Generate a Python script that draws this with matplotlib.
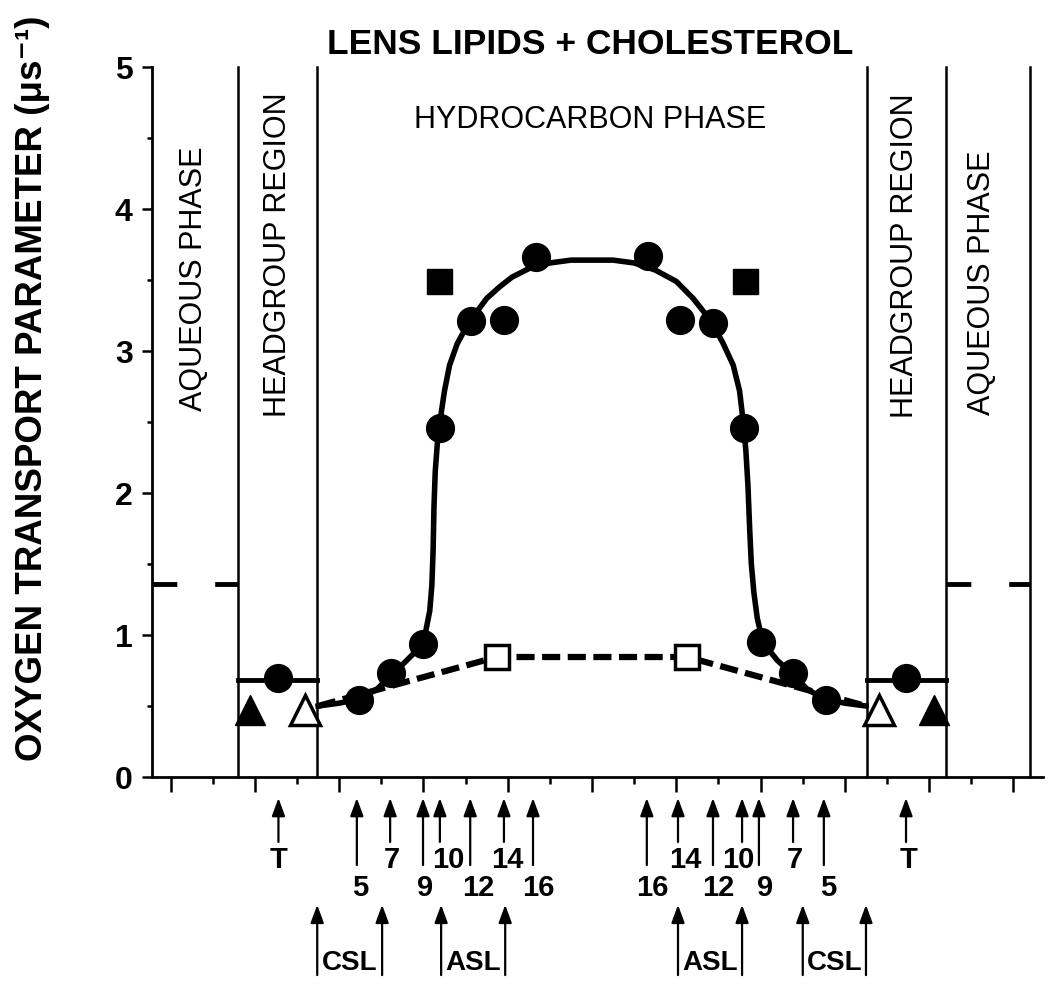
import matplotlib
matplotlib.use('Agg')
import matplotlib.pyplot as plt
from matplotlib import font_manager
from matplotlib.ticker import MultipleLocator

# data (x = position across the membrane, y = transport parameter)
circle_x = [-7.44, -5.54, -4.78, -4.02, -3.60, -2.88, -2.08, -1.32,
            1.32, 2.08, 2.88, 3.60, 4.02, 4.78, 5.54, 7.44]
circle_y = [0.70, 0.54, 0.73, 0.94, 2.46, 3.21, 3.22, 3.66,
            3.67, 3.22, 3.20, 2.46, 0.95, 0.73, 0.54, 0.70]
fsquare_x = [-3.62, 3.62]
fsquare_y = [3.49, 3.49]
osquare_x = [-2.26, 2.26]
osquare_y = [0.845, 0.845]
ftri_x = [-8.12, 8.12]
ftri_y = [0.47, 0.47]
otri_x = [-6.80, 6.80]
otri_y = [0.47, 0.47]

curve_x = [-6.5, -6.0, -5.5, -5.1, -4.75, -4.4, -4.1, -3.95, -3.85, -3.80, -3.77,
           -3.75, -3.72, -3.67, -3.60, -3.50, -3.38, -3.20, -3.0, -2.8, -2.5, -2.2,
           -1.9, -1.5, -1.0, -0.5, 0.0,
           0.5, 1.0, 1.5, 2.0, 2.4, 2.8, 3.1, 3.35, 3.50, 3.58, 3.65, 3.70, 3.74,
           3.78, 3.84, 3.92, 4.05, 4.4, 4.78, 5.1, 5.5, 6.0, 6.5]
curve_y = [0.50, 0.52, 0.55, 0.62, 0.72, 0.82, 0.91, 1.02, 1.17, 1.35, 1.60,
           1.90, 2.15, 2.35, 2.52, 2.72, 2.90, 3.05, 3.16, 3.25, 3.37, 3.45,
           3.52, 3.58, 3.62, 3.64, 3.64,
           3.64, 3.62, 3.57, 3.49, 3.37, 3.22, 3.06, 2.90, 2.72, 2.52, 2.30, 2.05, 1.75,
           1.50, 1.30, 1.12, 0.95, 0.82, 0.72, 0.62, 0.55, 0.52, 0.50]

dash_x = [-6.5, -2.26, 2.26, 6.5]
dash_y = [0.50, 0.845, 0.845, 0.50]

boundaries = [-8.4, -6.52, 6.52, 8.4, 10.4]
aqueous_level = 1.36
headgroup_level = 0.685

probe_names = ['T', '5', '7', '9', '10', '12', '14', '16']
probe_left = [-7.44, -5.58, -4.79, -4.01, -3.61, -2.89, -2.09, -1.40]
probe_right = [7.45, 5.50, 4.77, 3.96, 3.56, 2.87, 2.04, 1.30]
brackets = [('CSL', -6.52, -4.98), ('ASL', -3.58, -2.06),
            ('ASL', 2.04, 3.56), ('CSL', 5.0, 6.5)]

names = {f.name for f in font_manager.fontManager.ttflist}
has_narrow = 'Liberation Sans Narrow' in names
narrow = 'Liberation Sans Narrow' if has_narrow else 'Liberation Sans'
plt.rcParams['font.family'] = ['Liberation Sans', 'DejaVu Sans']

fig = plt.figure(figsize=(10.5, 9.88), dpi=100)
ax = fig.add_axes([152 / 1050, 1 - 777 / 988, 891 / 1050, 710 / 988])
ax.set_xlim(-10.44, 10.70)
ax.set_ylim(0, 5)

for s in ['top', 'right']:
    ax.spines[s].set_visible(False)
for s in ['left', 'bottom']:
    ax.spines[s].set_linewidth(2)

ax.xaxis.set_major_locator(MultipleLocator(2))
ax.xaxis.set_minor_locator(MultipleLocator(1))
ax.yaxis.set_major_locator(MultipleLocator(1))
ax.yaxis.set_minor_locator(MultipleLocator(0.5))
ax.tick_params(axis='x', which='major', length=11, width=1.8, labelbottom=False)
ax.tick_params(axis='x', which='minor', length=5, width=1.8)
ax.tick_params(axis='y', which='major', length=7, width=1.8, labelsize=23, pad=7)
ax.tick_params(axis='y', which='minor', length=3.5, width=1.8)
for lbl in ax.get_yticklabels():
    lbl.set_fontweight('bold')

# region boundaries
for b in boundaries:
    ax.plot([b, b], [0, 5], color='k', lw=1.8, clip_on=False)
ax.plot([-10.44, -8.4], [aqueous_level] * 2, color='k', lw=3.5,
        linestyle=(0, (5.1, 7.8)), solid_capstyle='butt')
ax.plot([8.4, 10.4], [aqueous_level] * 2, color='k', lw=3.5,
        linestyle=(0, (5.1, 7.8)), solid_capstyle='butt')
ax.plot([-8.4, -6.52], [headgroup_level] * 2, color='k', lw=3.5)
ax.plot([6.52, 8.4], [headgroup_level] * 2, color='k', lw=3.5)

# profiles
ax.plot(dash_x, dash_y, color='k', lw=4.5, linestyle=(0, (2.9, 1.2)), zorder=2)
ax.plot(curve_x, curve_y, color='k', lw=4, zorder=3)
ax.plot(circle_x, circle_y, 'o', color='k', ms=20, zorder=4)
ax.plot(fsquare_x, fsquare_y, 's', color='k', ms=18, zorder=4)
ax.plot(osquare_x, osquare_y, 's', mfc='white', mec='k', mew=2.5, ms=17, zorder=4)
ax.plot(ftri_x, ftri_y, '^', color='k', ms=22, zorder=4, clip_on=False)
ax.plot(otri_x, otri_y, '^', mfc='white', mec='k', mew=2.5, ms=22, zorder=4)

# region labels
ax.text(-9.44, 3.51, 'AQUEOUS PHASE', rotation=90, ha='center', va='center', fontsize=22)
ax.text(9.25, 3.48, 'AQUEOUS PHASE', rotation=90, ha='center', va='center', fontsize=22)
ax.text(-7.45, 3.68, 'HEADGROUP REGION', rotation=90, ha='center', va='center', fontsize=22)
ax.text(7.43, 3.67, 'HEADGROUP REGION', rotation=90, ha='center', va='center', fontsize=22)
ax.text(-0.05, 4.63, 'HYDROCARBON PHASE', ha='center', va='center', fontsize=22)

fig.text(590 / 1050, 1 - 45 / 988, 'LENS LIPIDS + CHOLESTEROL', ha='center', va='center',
         fontsize=30 if has_narrow else 25.5, fontweight='bold', family=[narrow, 'DejaVu Sans'])
fig.text(33 / 1050, 1 - 388 / 988, 'OXYGEN TRANSPORT PARAMETER (\u03bcs\u207b\u00b9)',
         rotation=90, ha='center', va='center', fontsize=32 if has_narrow else 26.5,
         fontweight='bold', family=[narrow, 'DejaVu Sans'])

# probe arrows below the axis
tr = ax.get_xaxis_transform()
arrow_kw = dict(arrowstyle='-|>,head_length=0.6,head_width=0.22', color='k', lw=1.6,
                mutation_scale=18, shrinkA=0, shrinkB=0)
left_shift = [0.0, 0.07, 0.03, 0.05, 0.21, 0.19, 0.07, 0.12]
right_shift = [0.05, 0.10, 0.05, 0.14, -0.10, 0.12, 0.17, 0.14]
for side, shift in [(probe_left, left_shift), (probe_right, right_shift)]:
    for i, (name, x) in enumerate(zip(probe_names, side)):
        long_arrow = i % 2 == 1
        tail = -0.124 if long_arrow else -0.0915
        ax.annotate('', xy=(x, -0.0296), xytext=(x, tail), xycoords=tr,
                    arrowprops=arrow_kw, annotation_clip=False)
        ax.text(x + shift[i], -0.156 if long_arrow else -0.117, name, transform=tr,
                ha='center', va='center', fontsize=21, fontweight='bold')

for name, x0, x1 in brackets:
    for x in (x0, x1):
        ax.annotate('', xy=(x, -0.180), xytext=(x, -0.279), xycoords=tr,
                    arrowprops=arrow_kw, annotation_clip=False)
    ax.text((x0 + x1) / 2, -0.262, name, transform=tr, ha='center', va='center',
            fontsize=20, fontweight='bold')

fig.savefig('out.png', dpi=100)
